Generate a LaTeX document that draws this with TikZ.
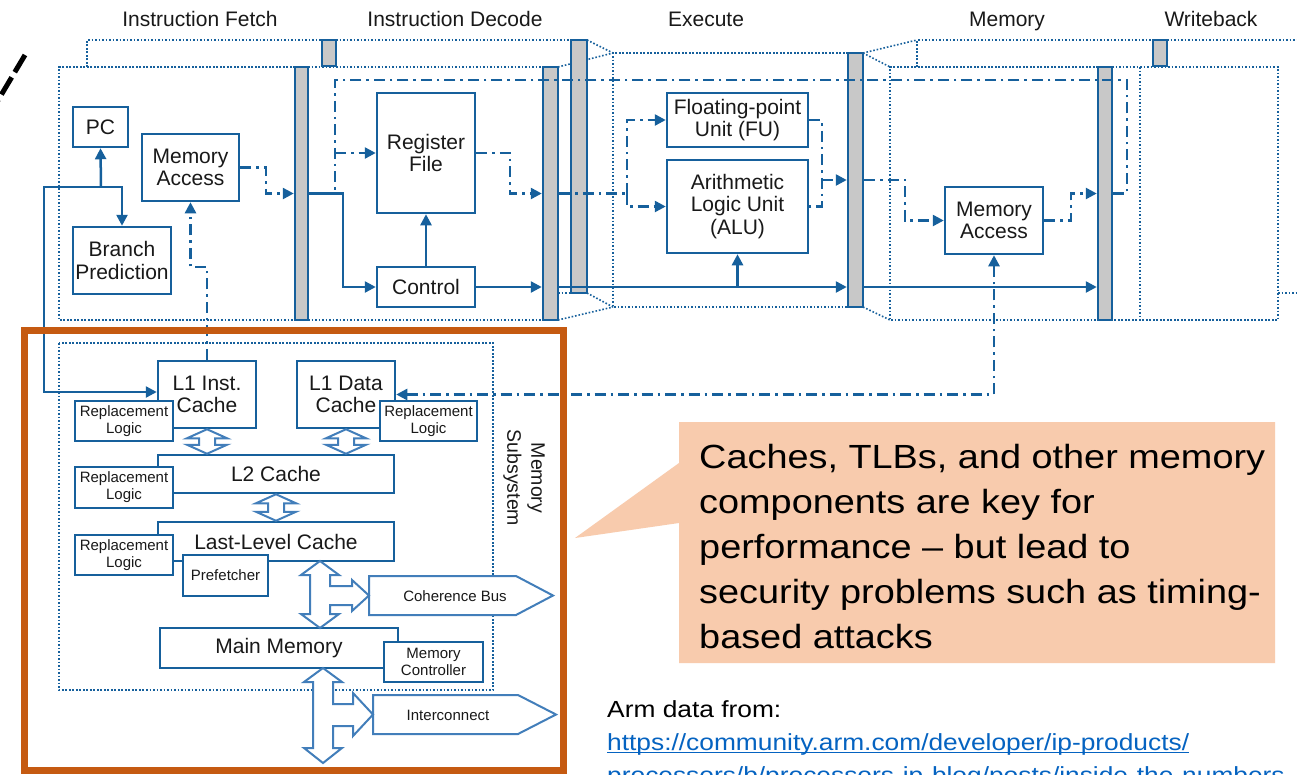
\documentclass[tikz,border=0pt]{standalone}
\usepackage{fontspec}
\setmainfont{Liberation Sans}
\newfontfamily\widefont[FakeStretch=1.13]{Liberation Sans}
\usetikzlibrary{arrows.meta,calc}

\definecolor{dblue}{RGB}{22,96,156}
\definecolor{lblue}{RGB}{66,126,186}
\definecolor{regfill}{RGB}{200,200,200}
\definecolor{txt}{RGB}{25,25,25}
\definecolor{rust}{RGB}{197,90,17}
\definecolor{peach}{RGB}{248,203,173}
\definecolor{link}{RGB}{5,99,193}

\newcommand{\setfs}[2]{\fontsize{#1}{#2}\selectfont}

% vertical two-headed hollow arrow between two anchors
\newcommand{\dblarrow}[2]{%
  \draw[hollow] let \p1=(#1), \p2=(#2) in
    (\x1,\y1) -- (\x1+20pt,\y1-9pt) -- (\x1+8pt,\y1-9pt) -- (\x1+8pt,\y2+9pt)
    -- (\x1+20pt,\y2+9pt) -- (\x1,\y2) -- (\x1-20pt,\y2+9pt) -- (\x1-8pt,\y2+9pt)
    -- (\x1-8pt,\y1-9pt) -- (\x1-20pt,\y1-9pt) -- cycle;}

\tikzset{
  blk/.style={draw=dblue, line width=2.5pt, fill=white, inner sep=0pt,
    align=center, text=txt, font=\setfs{21}{22.5}},
  rlbox/.style={blk, font=\setfs{15}{17}},
  reg/.style={draw=dblue, line width=2.5pt, fill=regfill, inner sep=0pt},
  stagefr/.style={draw=dblue, line width=1.6pt, dash pattern=on 1.6pt off 1.9pt},
  stage/.style={anchor=base, text=txt, font=\setfs{21}{24}},
  wire/.style={draw=dblue, line width=2.5pt},
  dd/.style={wire, dash pattern=on 11pt off 5pt on 2.5pt off 5pt},
  arr/.style={-{Triangle[length=11pt,width=11pt]}},
  arrs/.style={{Triangle[length=11pt,width=11pt]}-{Triangle[length=11pt,width=11pt]}},
  hollow/.style={draw=lblue, line width=2pt, fill=white, line join=miter},
  small/.style={text=txt, font=\setfs{15}{17}, inner sep=0pt},
}

\begin{document}
\begin{tikzpicture}[x=1pt,y=-1pt]
\useasboundingbox (0,0) rectangle (1297,774);
\clip (0,0) rectangle (1297,774);
\fill[white] (0,0) rectangle (1297,774);

% ---------- pipeline stage titles ----------
\node[stage] (tif) at (200,26) {Instruction Fetch};
\node[stage] (tid) at (455,26) {Instruction Decode};
\node[stage] (tex) at (706,26) {Execute};
\node[stage] (tmem) at (1007,26) {Memory};
\node[stage] (twb) at (1211,26) {Writeback};

% ---------- dotted stage outlines (front and rear layers) ----------
\draw[stagefr] (87,67) -- (87,40) -- (322,40);
\draw[stagefr] (336,40) -- (571,40);
\draw[stagefr] (587,40) -- (613,53);
\draw[stagefr] (295,67) -- (59,67) -- (59,320) -- (295,320);
\draw[stagefr] (308,67) -- (543,67);
\draw[stagefr] (308,320) -- (543,320);
\draw[stagefr] (558,67) -- (613,53);
\draw[stagefr] (558,293) -- (571,293);
\draw[stagefr] (558,320) -- (613,307);
\draw[stagefr] (587,293) -- (613,307);
\draw[stagefr] (848,53) -- (613,53) -- (613,307) -- (848,307);
\draw[stagefr] (863,53) -- (917,40);
\draw[stagefr] (863,53) -- (890,67);
\draw[stagefr] (863,307) -- (890,320);
\draw[stagefr] (1098,67) -- (890,67) -- (890,320) -- (1098,320);
\draw[stagefr] (917,67) -- (917,40) -- (1153,40);
\draw[stagefr] (1167,40) -- (1297,40);
\draw[stagefr] (1112,67) -- (1278,67) -- (1278,320) -- (1112,320);
\draw[stagefr] (1140,67) -- (1140,320);
\draw[stagefr] (1278,293) -- (1297,293);

% ---------- pipeline registers ----------
\node[reg, minimum width=13pt, minimum height=253pt] (ifid) at (301.5,193.5) {};
\node[reg, minimum width=14pt, minimum height=26pt] (ifidb) at (329,53) {};
\node[reg, minimum width=16pt, minimum height=253pt] (idexb) at (579,166.5) {};
\node[reg, minimum width=15pt, minimum height=253pt] (idex) at (550.5,193.5) {};
\node[reg, minimum width=15pt, minimum height=254pt] (exmem) at (855.5,180) {};
\node[reg, minimum width=14pt, minimum height=253pt] (memwb) at (1105,193.5) {};
\node[reg, minimum width=14pt, minimum height=26pt] (memwbb) at (1160,53) {};

% ---------- pipeline units ----------
\node[blk, minimum width=55pt, minimum height=40pt] (pc) at (100.5,127) {PC};
\node[blk, minimum width=97pt, minimum height=67pt] (maif) at (190.5,167.5) {Memory\\Access};
\node[blk, minimum width=98pt, minimum height=67pt] (bp) at (122,260.5) {Branch\\Prediction};
\node[blk, minimum width=98pt, minimum height=120pt] (rf) at (426,153) {Register\\File};
\node[blk, minimum width=98pt, minimum height=40pt] (ctrl) at (426,287) {Control};
\node[blk, minimum width=141pt, minimum height=54pt] (fu) at (737.5,120) {Floating-point\\Unit (FU)};
\node[blk, minimum width=141pt, minimum height=93pt] (alu) at (737.5,206.5) {Arithmetic\\Logic Unit\\(ALU)};
\node[blk, minimum width=98pt, minimum height=67pt] (mamem) at (994,220.5) {Memory\\Access};

% ---------- memory subsystem ----------
\draw[stagefr] (59,343) rectangle (493,690);
\node[rotate=-90, align=center, text=txt, font=\setfs{19.5}{24}] (msub) at (524,478) {Memory\\Subsystem};

\node[blk, minimum width=98pt, minimum height=67pt] (l1i) at (207,394.5) {L1 Inst.\\Cache};
\node[rlbox, minimum width=98pt, minimum height=40pt] (rl1) at (124,421) {Replacement\\Logic};
\node[blk, minimum width=98pt, minimum height=67pt] (l1d) at (346,394.5) {L1 Data\\Cache};
\node[rlbox, minimum width=97pt, minimum height=40pt] (rl2) at (428.5,421) {Replacement\\Logic};
\node[blk, minimum width=236pt, minimum height=38pt] (l2) at (276,474) {L2 Cache};
\node[rlbox, minimum width=98pt, minimum height=41pt] (rl3) at (124,487.5) {Replacement\\Logic};
\node[blk, minimum width=236pt, minimum height=39pt] (llc) at (276,541.5) {Last-Level Cache};
\node[rlbox, minimum width=98pt, minimum height=40pt] (rl4) at (124,555) {Replacement\\Logic};
\node[rlbox, minimum width=85pt, minimum height=41pt] (pf) at (225.5,575.5) {Prefetcher};
\node[blk, minimum width=238pt, minimum height=40pt] (mm) at (279,648) {Main Memory};
\node[rlbox, minimum width=99pt, minimum height=40pt] (mc) at (433.5,662) {Memory\\Controller};

% buses leaving the memory subsystem
\draw[hollow] (369,576) -- (516,576) -- (553,595.5) -- (516,615) -- (369,615) -- cycle;
\node[small] (cb) at (455,596) {Coherence Bus};
\draw[hollow] (373,695) -- (518,695) -- (556,714.5) -- (518,734) -- (373,734) -- cycle;
\node[small] (ic) at (448,715) {Interconnect};

% hollow transfer arrows between cache levels
\dblarrow{l1i.south}{l2.north}
\dblarrow{l1d.south}{l2.north}
\dblarrow{l2.south}{llc.north}
\draw[hollow] (320,561) -- (339,575) -- (330,575) -- (330,586) -- (352,586) -- (352,580)
  -- (369,595.5) -- (352,611) -- (352,605) -- (330,605) -- (330,614) -- (339,614)
  -- (320,628) -- (301,614) -- (310,614) -- (310,575) -- (301,575) -- cycle;
\draw[hollow] (323,668) -- (342,682) -- (333,682) -- (333,704) -- (353,704) -- (353,693)
  -- (373,714.5) -- (353,736) -- (353,726) -- (333,726) -- (333,748) -- (342,748)
  -- (323,763) -- (304,748) -- (313,748) -- (313,682) -- (304,682) -- cycle;

% ---------- connectors ----------
\coordinate (j1) at (101,187);
\coordinate (j2) at (44,187);
\draw[wire, arr] (j1) -- (pc.south);
\draw[wire, arr] (j1) -| (bp.north);
\draw[wire, arr] (j1) -- (j2) |- ([yshift=2.5pt]l1i.west);

\draw[dd, arr] (maif.east) -- (266,167.5) -- (266,193.5) -- (ifid.west);
\coordinate (k1) at (207,267);
\draw[dd, arr] (l1i.north) -- (k1) -| (maif.south);

\draw[wire, arr] (ifid.east) -- (343,193.5) |- (ctrl.west);
\draw[dd] (memwb.east) -- (1127,193.5) -- (1127,80) -- (335,80) -- (335,193.5);
\draw[dd, arr] (335,153) -- (rf.west);
\draw[wire, arr] (ctrl.north) -- (rf.south);
\draw[wire, arr] (ctrl.east) -- (ctrl.east -| idex.west);
\draw[dd, arr] (rf.east) -- (510,153) -- (510,193.5) -- (idex.west);

\draw[dd] (idex.east) -- (627,193.5);
\draw[dd, arr] (627,193.5) |- (fu.west);
\draw[dd, arr] (627,193.5) |- (alu.west);
\draw[dd] (fu.east) -- (822,120) -- (822,206.5) -- (alu.east);
\draw[dd, arr] (822,180) -- (exmem.west);
\draw[wire, arr] (ctrl.east -| idex.east) -- (ctrl.east -| exmem.west);
\draw[wire, arr] (737.5,287) -- (alu.south);

\draw[dd, arr] (exmem.east) -- (905,180) |- (mamem.west);
\draw[dd, arr] (mamem.east) -- (1071,220.5) -- (1071,193.5) -- (memwb.west);
\draw[wire, arr] (ctrl.east -| exmem.east) -- (ctrl.east -| memwb.west);
\draw[dd, arrs] (l1d.east) -- (994,394.5) -- (mamem.south);

% ---------- annotations ----------
\draw[black, line width=5pt, dash pattern=on 20pt off 6pt] (25,55) -- (-6,107);
\draw[rust, line width=7pt] (24.5,330) rectangle (563.5,770.5);

\fill[peach] (679,422) -- (1275,422) -- (1275,663) -- (679,663) -- (679,523)
  -- (575,538) -- (679,463) -- cycle;
\node[anchor=north west, inner sep=0pt, align=left, text=black,
  font=\widefont\setfs{33.5}{45}] (note) at (699,444)
  {Caches, TLBs, and other memory\\components are key for\\performance \textendash{} but lead to\\security problems such as timing-\\based attacks};

\node[anchor=base west, inner sep=0pt, text=black, font=\widefont\setfs{23.3}{28}] (src) at (607,717) {Arm data from:};
\node[anchor=base west, inner sep=0pt, text=link, font=\widefont\setfs{23.3}{28}] (url1) at (607,750) {https://community.arm.com/developer/ip-products/};
\node[anchor=base west, inner sep=0pt, text=link, font=\widefont\setfs{23.3}{28}] (url2) at (607,783) {processors/b/processors-ip-blog/posts/inside-the-numbers};
\draw[link, line width=1.4pt] ([yshift=-2.5pt]url1.base west) -- ([yshift=-2.5pt]url1.base east);
\end{tikzpicture}
\end{document}
